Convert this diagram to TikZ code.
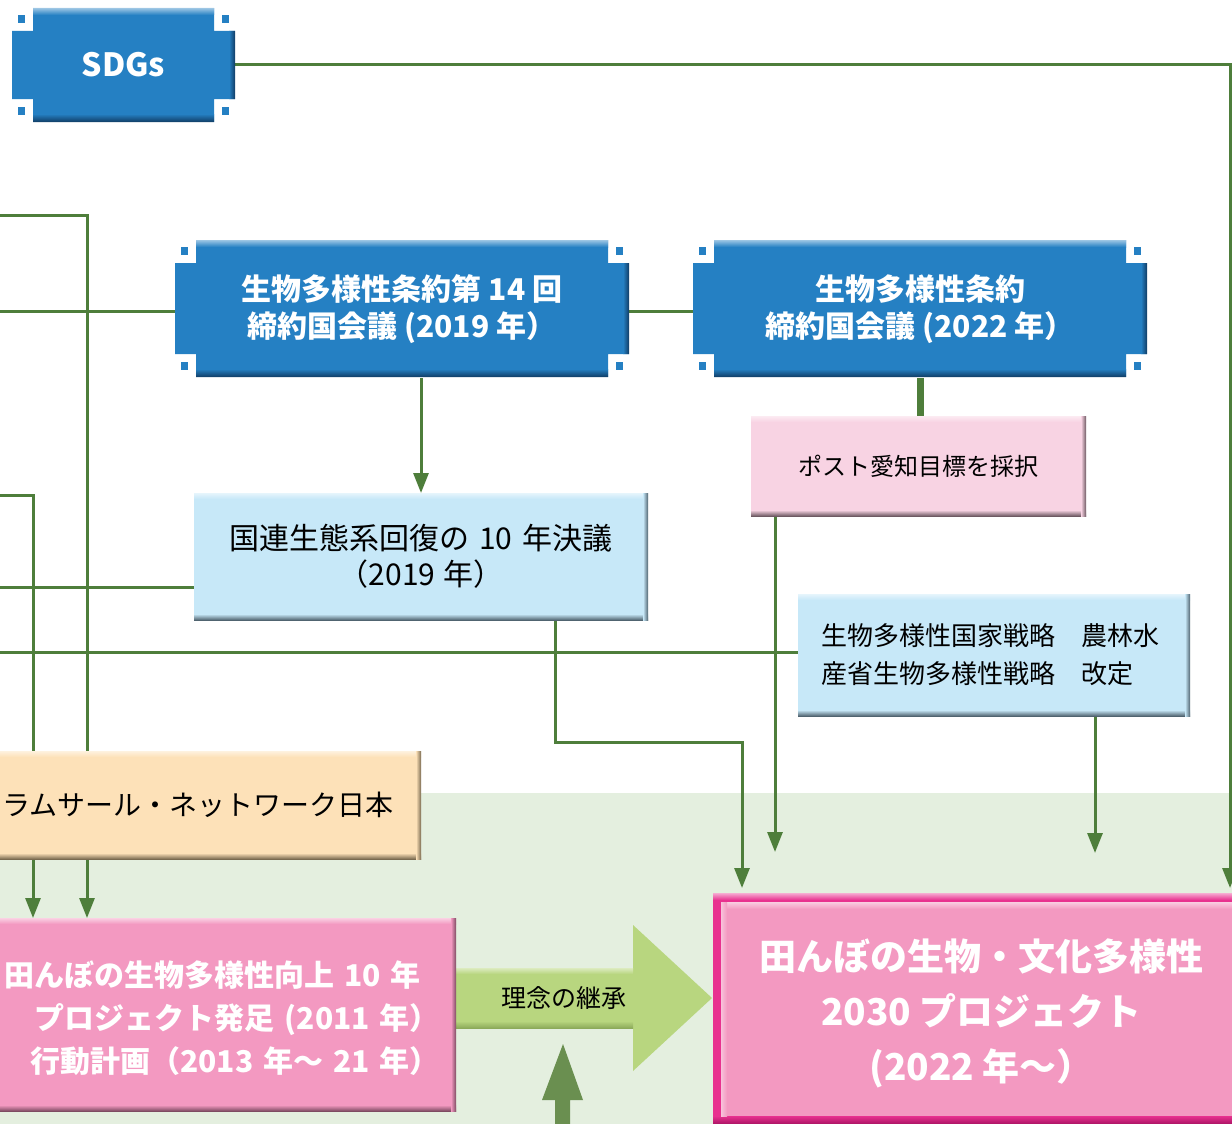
\documentclass[tikz,border=0pt]{standalone}
\usepackage{fontspec}
\newfontfamily\jp{Noto Sans CJK JP}
\usetikzlibrary{arrows.meta}
\pgfdeclarelayer{under}
\pgfsetlayers{under,main}
\definecolor{lineG}{RGB}{78,126,59}
\definecolor{bgG}{RGB}{228,239,223}
\definecolor{arrG}{RGB}{184,214,127}
\definecolor{arrGd}{RGB}{140,170,90}
\definecolor{upG}{RGB}{106,143,80}
\definecolor{sdgblue}{RGB}{37,128,195}
\definecolor{sdgdark}{RGB}{16,60,100}
\definecolor{lblue}{RGB}{199,232,248}
\definecolor{lblued}{RGB}{80,100,112}
\definecolor{lpink}{RGB}{248,211,227}
\definecolor{lpinkd}{RGB}{110,90,99}
\definecolor{orangeA}{RGB}{253,225,184}
\definecolor{orangeAd}{RGB}{122,106,80}
\definecolor{pinkA}{RGB}{243,153,193}
\definecolor{pinkAd}{RGB}{126,75,98}
\definecolor{magA}{RGB}{232,49,143}
\definecolor{magAd}{RGB}{170,20,100}
\tikzset{
  conn/.style={draw=lineG,line width=3pt},
  bigconn/.style={draw=lineG,line width=7pt},
  arr/.style={-{Triangle[length=20pt,width=15pt]}},
  boxnode/.style={inner sep=0pt,outer sep=0pt,align=center},
  titletext/.style={text=white,font=\jp\bfseries\fontsize{30}{37}\selectfont},
  pinktext/.style={text=white,font=\jp\bfseries\fontsize{30}{43}\selectfont},
  bigtext/.style={text=white,font=\jp\bfseries\fontsize{37}{55}\selectfont},
}
\newcommand\panel[6]{%
  \fill[#5] (#1,#2) rectangle (#3,#4);
  \shade[top color=white!55!#5,bottom color=#5] (#1,#2) rectangle (#3,#2+6);
  \shade[top color=#5,bottom color=#6] (#1,#4-6) rectangle (#3,#4);
  \shade[left color=#5,right color=#6] (#3-5,#2) rectangle (#3,#4);
}
\newcommand\notchpanel[4]{%
  \begin{scope}
  \clip (#1+21,#2) -- (#3-21,#2) -- (#3-21,#2+23) -- (#3,#2+23) -- (#3,#4-23) -- (#3-21,#4-23) -- (#3-21,#4) -- (#1+21,#4) -- (#1+21,#4-23) -- (#1,#4-23) -- (#1,#2+23) -- (#1+21,#2+23) -- cycle;
  \fill[sdgblue] (#1,#2) rectangle (#3,#4);
  \shade[top color=sdgblue!45!white,bottom color=sdgblue] (#1,#2) rectangle (#3,#2+7);
  \shade[top color=sdgblue,bottom color=sdgdark] (#1,#4-8) rectangle (#3,#4);
  \shade[left color=sdgblue,right color=sdgdark] (#3-6,#2) rectangle (#3,#4);
  \end{scope}
  \fill[sdgblue] (#1+6,#2+7) rectangle (#1+13,#2+15);
  \fill[sdgblue] (#3-13,#2+7) rectangle (#3-6,#2+15);
  \fill[sdgblue] (#1+6,#4-15) rectangle (#1+13,#4-7);
  \fill[sdgblue] (#3-13,#4-15) rectangle (#3-6,#4-7);
}
\newcommand\placebox[7]{%
  \node[boxnode,minimum width={(#4-(#2))*1pt},minimum height={(#5-(#3))*1pt},#6] (#1) at ({(#2+#4)/2},{(#3+#5)/2}) {#7};}
\begin{document}
\begin{tikzpicture}[x=1pt,y=-1pt]
\useasboundingbox (0,0) rectangle (1232,1124);
\begin{pgfonlayer}{under}
\fill[bgG] (0,793) rectangle (1232,1124);
\fill[arrG] (455,968) -- (633,968) -- (633,925) -- (712,998) -- (633,1071) -- (633,1028) -- (455,1028) -- cycle;
\shade[top color=arrG!50!white,bottom color=arrG] (455,968) rectangle (633,974);
\shade[top color=arrG,bottom color=arrGd] (455,1021) rectangle (633,1028);
\fill[upG] (563,1044) -- (583,1100) -- (570,1100) -- (570,1130) -- (555,1130) -- (555,1100) -- (542,1100) -- cycle;
\end{pgfonlayer}

\notchpanel{12}{8}{235}{122}
\placebox{sdgs}{12}{8}{235}{122}{text=white,font=\jp\bfseries\fontsize{32}{36}\selectfont}{SDGs}

\notchpanel{175}{240}{629}{377}
\placebox{cbd14}{175}{240}{629}{377}{titletext,yshift=-1pt}{生物多様性条約第 14 回\\締約国会議 (2019 年）}

\notchpanel{693}{240}{1147}{377}
\placebox{cbd22}{693}{240}{1147}{377}{titletext,yshift=-1pt}{生物多様性条約\\締約国会議 (2022 年）}

\panel{751}{416}{1086}{516}{lpink}{lpinkd}
\placebox{aichi}{751}{416}{1086}{516}{text=black,font=\jp\fontsize{24}{30}\selectfont}{ポスト愛知目標を採択}

\panel{194}{493}{648}{620}{lblue}{lblued}
\placebox{un}{194}{493}{648}{620}{text=black,font=\jp\fontsize{30}{36}\selectfont}{国連生態系回復の\hspace{10pt}10\hspace{10pt}年決議\\（2019\hspace{8pt}年）}

\panel{798}{594}{1190}{716}{lblue}{lblued}
\placebox{natl}{798}{594}{1190}{716}{text=black,font=\jp\fontsize{26}{38}\selectfont,text width=345pt,align=left}{生物多様性国家戦略　農林水\\産省生物多様性戦略　改定}

\panel{-25}{751}{421}{859}{orangeA}{orangeAd}
\placebox{ramsar}{-25}{751}{421}{859}{text=black,font=\jp\fontsize{28}{34}\selectfont}{ラムサール・ネットワーク日本}

\panel{-30}{918}{456}{1111}{pinkA}{pinkAd}
\placebox{tanbo10}{-30}{918}{456}{1111}{pinktext,text width=450pt,align=right,yshift=-4pt,xshift=2pt}{田んぼの生物多様性向上 10 年\rule{19pt}{0pt}\\プロジェクト発足 (2011 年）\\行動計画（2013 年～ 21 年）}

\fill[magA] (713,893) rectangle (1250,1130);
\shade[top color=magA!40!white,bottom color=magA] (713,893) rectangle (1250,900);
\shade[top color=magA,bottom color=magAd] (713,1116) rectangle (1250,1124);
\fill[pinkA] (721,902) rectangle (1250,1116);
\shade[top color=pinkA!50!white,bottom color=pinkA] (721,902) rectangle (1250,909);
\shade[left color=pinkA!60!white,right color=pinkA] (721,902) rectangle (727,1116);
\placebox{tanbo2030}{713}{893}{1250}{1130}{bigtext,yshift=-2pt}{田んぼの生物・文化多様性\\2030 プロジェクト\\(2022 年～）}

\node[text=black,font=\jp\fontsize{25}{30}\selectfont,inner sep=0pt] (rinen) at (564,998) {理念の継承};

\coordinate (inA) at (0,215);
\coordinate (inB) at (0,311);
\coordinate (inC) at (0,495);
\coordinate (inD) at (0,587);
\coordinate (inE) at (0,652);
\coordinate (dropA) at (87,918);
\coordinate (dropB) at (33,918);
\coordinate (bendUN) at (555,742);
\coordinate (tipUN) at (742,888);
\coordinate (tipSDG) at (1230,888);
\coordinate (tipAichi) at (775,852);
\coordinate (tipNatl) at (1095,853);

\begin{pgfonlayer}{under}
\draw[conn,arr] (sdgs.east) -| (tipSDG);
\draw[conn,arr] (inA) -| (dropA);
\draw[conn,arr] (inC) -| (dropB);
\draw[conn] (inB) -- (inB -| cbd14.west);
\draw[conn] (cbd14.east |- inB) -- (cbd22.west |- inB);
\draw[conn] (inD) -- (inD -| un.west);
\draw[conn] (inE) -- (inE -| natl.west);
\draw[conn,arr] (cbd14.south -| un.north) -- (un.north);
\draw[bigconn] (cbd22.south) -- (cbd22.south |- aichi.north);
\draw[conn,arr] (bendUN |- un.south) -- (bendUN) -| (tipUN);
\draw[conn,arr] (tipAichi |- aichi.south) -- (tipAichi);
\draw[conn,arr] (tipNatl |- natl.south) -- (tipNatl);
\end{pgfonlayer}
\end{tikzpicture}
\end{document}
